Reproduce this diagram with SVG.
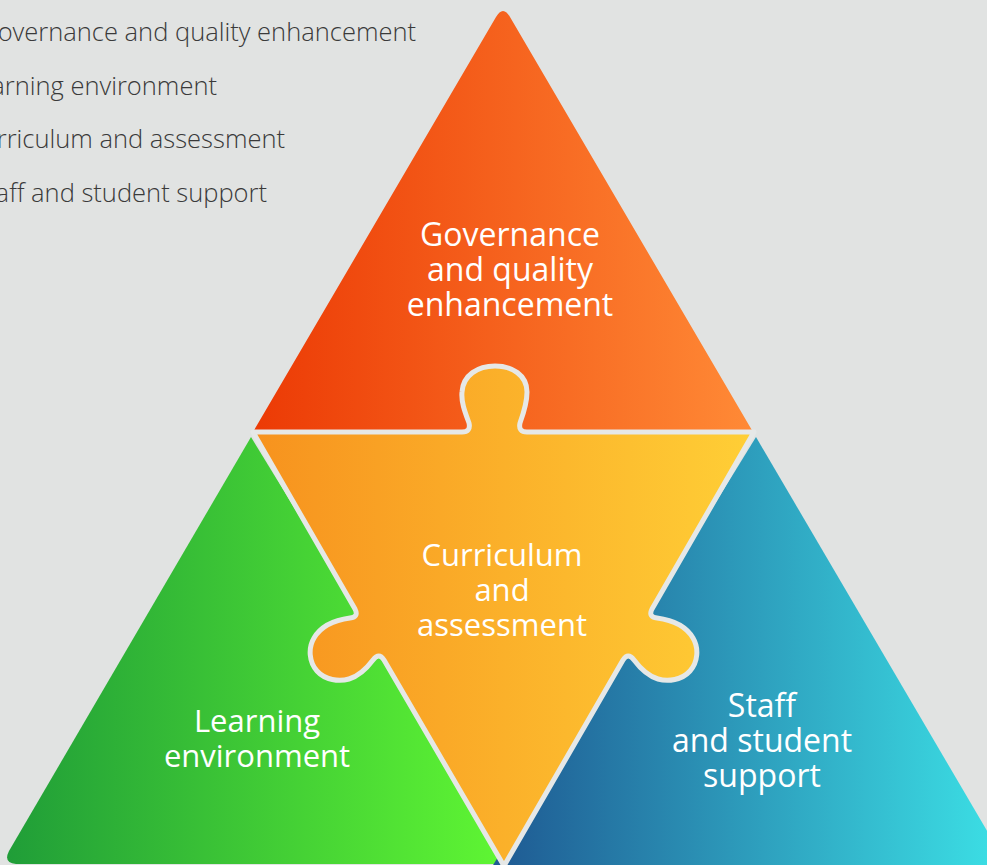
<svg xmlns="http://www.w3.org/2000/svg" width="987" height="865" viewBox="0 0 987 865">
  <defs>
    <linearGradient id="gTop" gradientUnits="userSpaceOnUse" x1="253" y1="0" x2="753" y2="0">
      <stop offset="0" stop-color="#ec3a05"/>
      <stop offset="1" stop-color="#ff8a36"/>
    </linearGradient>
    <linearGradient id="gCenter" gradientUnits="userSpaceOnUse" x1="253" y1="0" x2="754" y2="0">
      <stop offset="0" stop-color="#f7921e"/>
      <stop offset="1" stop-color="#ffcf36"/>
    </linearGradient>
    <linearGradient id="gGreen" gradientUnits="userSpaceOnUse" x1="0" y1="0" x2="503" y2="0">
      <stop offset="0" stop-color="#1f9c38"/>
      <stop offset="1" stop-color="#5ff633"/>
    </linearGradient>
    <linearGradient id="gBlue" gradientUnits="userSpaceOnUse" x1="505" y1="0" x2="987" y2="0">
      <stop offset="0" stop-color="#1f5c94"/>
      <stop offset="1" stop-color="#3bdce3"/>
    </linearGradient>
    <style>
      .legend { font-family: "Open Sans", "Liberation Sans", sans-serif; font-size: 25.5px; font-weight: 300; fill: #3a3a3a; text-anchor: end; }
      .label { font-family: "Open Sans", "Liberation Sans", sans-serif; font-size: 31px; font-weight: 400; fill: #ffffff; text-anchor: middle; }
      .big { font-size: 32px; }
      .piece { stroke: #e6e8e7; stroke-width: 5; stroke-linejoin: round; }
    </style>
  </defs>

  <rect x="0" y="0" width="987" height="865" fill="#e1e3e2"/>

  <g id="legend">
    <text class="legend" x="416" y="41">Governance and quality enhancement</text>
    <text class="legend" x="217" y="95">Learning environment</text>
    <text class="legend" x="285" y="148">Curriculum and assessment</text>
    <text class="legend" x="267" y="202">Staff and student support</text>
  </g>

  <g id="governance">
    <path d="M 253 432 L 496 17 Q 503 5 510 17 L 753 432 Z" fill="url(#gTop)"/>
    <text class="label big" x="510" y="246">Governance</text>
    <text class="label big" x="510" y="281">and quality</text>
    <text class="label big" x="510" y="316">enhancement</text>
  </g>

  <g id="learning">
    <path d="M 251 437 L 9 851 Q 3 863 16 864 L 512 864 Z" fill="url(#gGreen)"/>
  </g>

  <g id="staff">
    <path d="M 756 437 L 1010 870 L 490 870 Z" fill="url(#gBlue)"/>
  </g>

  <g id="curriculum">
    <path class="piece" fill="url(#gCenter)" d="M 253 432 L 462 432 Q 471 432 469 423 C 465 412 461 402 462 392 C 463 375 478 366 495 366 C 512 366 527 375 527 392 C 527 402 524 412 520 423 Q 518 432 527 432 L 754 432 L 652 609 Q 648 617 657 618 C 672 620 686 626 693 638 C 699 648 698 662 690 671 C 682 680 668 682 658 679 C 648 676 640 668 634 660 Q 628 652 623 660 L 504 866 L 384 660 Q 379 652 373 660 C 367 668 359 676 349 679 C 339 682 325 680 317 671 C 309 662 308 648 314 638 C 321 626 335 620 350 618 Q 359 617 355 609 Z"/>
    <text class="label" x="502" y="566">Curriculum</text>
    <text class="label" x="502" y="601">and</text>
    <text class="label" x="502" y="636">assessment</text>
  </g>

  <g id="learning-label">
    <text class="label" x="257" y="732">Learning</text>
    <text class="label" x="257" y="767">environment</text>
  </g>

  <g id="staff-label">
    <text class="label big" x="762" y="717">Staff</text>
    <text class="label big" x="762" y="752">and student</text>
    <text class="label big" x="762" y="787">support</text>
  </g>
</svg>
